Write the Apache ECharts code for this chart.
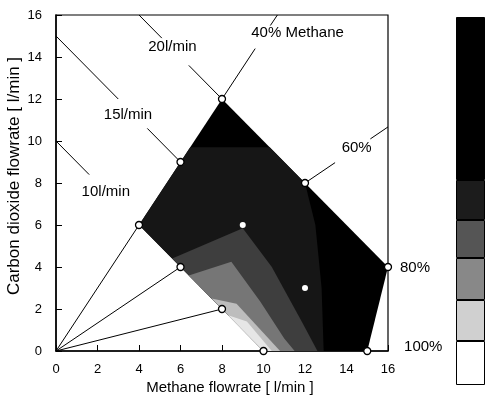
<!DOCTYPE html>
<html><head><meta charset="utf-8">
<script src="https://cdn.jsdelivr.net/npm/echarts@6/dist/echarts.min.js"></script>
<style>html,body{margin:0;padding:0;background:#fff}#c{width:485px;height:404px}</style>
</head><body><div id="c"></div>
<script>
// ---- data (flowrates in l/min) ----
const outerRegion   = [[4,6],[8,12],[16,4],[15,0],[10,0]];
const speckleRegion = [[4,6],[6.47,9.7],[10.3,9.7],[12,8],[12.5,6],[12.8,3],[12.9,0],[10,0]];
const bandD = [[5.6,4.4],[9.0,5.85],[10.4,4.0],[11.9,1.3],[12.6,0],[10,0]];
const bandC = [[6.4,3.6],[8.45,4.25],[9.85,2.35],[11.0,0.6],[11.5,0],[10,0]];
const bandB = [[7.5,2.5],[8.7,2.25],[10.8,0],[10,0]];
const bandA = [[8.3,1.7],[9.2,1.4],[10.4,0],[10,0]];

const rayLines = [[[0,0],[4,6]], [[0,0],[6,4]], [[0,0],[8,2]]];
const leaderLines = [
  [[0,10],[1.6,8.4]],
  [[0,15],[3.0,12.0]], [[4.4,10.6],[6,9]],
  [[4,16],[5.1,14.9]], [[6.4,13.6],[8,12]],
  [[8,12],[9.6,14.4]], [[10.33,15.5],[10.67,16]],
  [[12,8],[13.45,8.97]], [[15.15,10.1],[16,10.67]]
];
const openPoints  = [[4,6],[6,9],[8,12],[12,8],[16,4],[15,0],[10,0],[8,2],[6,4]];
const innerPoints = [[9,6],[12,3]];

const labelTexts   = ['10l/min','15l/min','20l/min','40% Methane','60%','80%','100%'];
const labelAnchors = [[2.4,7.6],[3.47,11.24],[5.61,14.5],[11.64,15.13],[14.49,9.65],[17.3,3.94],[17.7,0.2]];

// colour-bar band sizes, bottom -> top
const legendBands = [44,41,42,38,40,163];

// ---- styles ----
const FONT = 'Liberation Sans';
const regionPolygons = [outerRegion, speckleRegion, bandD, bandC, bandB, bandA];
const regionFill = ['#000000','#161616','#3e3e3e','#767676','#bdbdbd','#e6e6e6'];
const legendFill = ['#ffffff','#d0d0d0','#888888','#555555','#1c1c1c','#000000'];

const axisCommon = {
  type:'value', min:0, max:16, interval:2,
  axisLine:{show:true, onZero:false, lineStyle:{color:'#000', width:1.5}},
  axisTick:{show:true, inside:true, length:6, lineStyle:{color:'#000', width:1}},
  axisLabel:{color:'#000', fontSize:13, fontFamily:FONT},
  splitLine:{show:false}
};

const series = [
  {
    type:'custom', xAxisIndex:0, yAxisIndex:0, coordinateSystem:'cartesian2d',
    data: regionPolygons.map(p => p[0]), z:1, silent:true,
    renderItem:(params, api) => {
      const poly = regionPolygons[params.dataIndex];
      return {type:'polygon', shape:{points: poly.map(p => api.coord(p))},
              style:{fill: regionFill[params.dataIndex], stroke:null}};
    }
  },
  {
    type:'lines', coordinateSystem:'cartesian2d', xAxisIndex:0, yAxisIndex:0, z:3, silent:true,
    data: rayLines.concat(leaderLines).map(c => ({coords:c})),
    lineStyle:{color:'#000', width:1, opacity:1, curveness:0}
  },
  {
    type:'scatter', xAxisIndex:0, yAxisIndex:0, z:5, silent:true, clip:false,
    data: openPoints, symbol:'circle', symbolSize:7,
    itemStyle:{color:'#fff', borderColor:'#000', borderWidth:1.3, opacity:1}
  },
  {
    type:'scatter', xAxisIndex:0, yAxisIndex:0, z:5, silent:true, clip:false,
    data: innerPoints, symbol:'circle', symbolSize:6,
    itemStyle:{color:'#fff', borderWidth:0, opacity:1}
  },
  {
    type:'scatter', xAxisIndex:0, yAxisIndex:0, z:6, silent:true, clip:false,
    data: labelAnchors.map((p,i) => ({value:p, name:labelTexts[i]})),
    symbolSize:1, itemStyle:{color:'rgba(0,0,0,0)', opacity:1},
    label:{show:true, position:'inside', formatter:'{b}', color:'#000', opacity:1, fontSize:15, fontFamily:FONT}
  }
];

legendBands.forEach((v,i) => {
  series.push({
    type:'bar', xAxisIndex:1, yAxisIndex:1, stack:'bar', data:[v], barWidth:'100%', silent:true,
    itemStyle:{color:legendFill[i], borderColor:'#000', borderWidth:1}
  });
});

const chart = echarts.init(document.getElementById('c'), null, {renderer:'canvas'});
chart.setOption({
  animation:false,
  backgroundColor:'#fff',
  grid:[
    {left:56, top:15, width:332, height:336, show:true, borderColor:'#000', borderWidth:1.2, backgroundColor:'transparent'},
    {left:456, top:17, width:29, height:368}
  ],
  xAxis:[
    Object.assign({}, axisCommon, {gridIndex:0, axisLabel:Object.assign({}, axisCommon.axisLabel, {margin:12})}),
    {gridIndex:1, type:'category', data:['band'], show:false}
  ],
  yAxis:[
    Object.assign({}, axisCommon, {gridIndex:0, axisLabel:Object.assign({}, axisCommon.axisLabel, {margin:14})}),
    {gridIndex:1, type:'value', min:0, max:legendBands.reduce((a,b)=>a+b,0), show:false}
  ],
  graphic:[
    {type:'text', x:230, y:388, style:{text:'Methane flowrate [ l/min ]', fill:'#000', font:'15px "Liberation Sans"', textAlign:'center', textVerticalAlign:'middle'}},
    {type:'text', x:14, y:176, rotation:Math.PI/2, style:{text:'Carbon dioxide flowrate [ l/min ]', fill:'#000', font:'17px "Liberation Sans"', textAlign:'center', textVerticalAlign:'middle'}}
  ],
  series:series
});
</script>
</body></html>
